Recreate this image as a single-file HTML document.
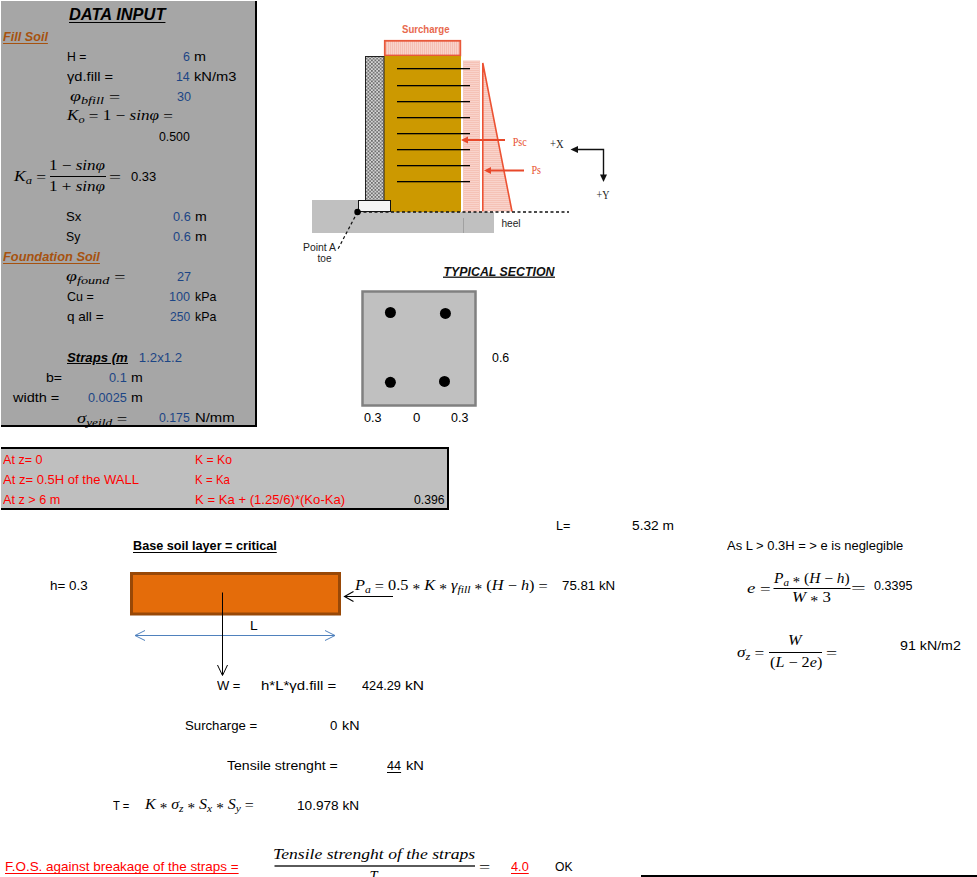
<!DOCTYPE html>
<html><head><meta charset="utf-8">
<style>
html,body{margin:0;padding:0;background:#fff;}
body{width:977px;height:877px;position:relative;overflow:hidden;font-family:"Liberation Sans",sans-serif;}
.t{position:absolute;white-space:nowrap;line-height:1;}
.abs{position:absolute;}
</style></head><body>
<!-- left data panel -->
<div class="abs" style="left:1px;top:1px;width:254px;height:424px;background:#A6A6A6;"></div>
<!-- straps clipped header -->
<div class="abs" style="left:60px;top:340px;width:68px;height:30px;overflow:hidden;">
  <div class="t" id="straps" style="left:7px;top:11px;font:italic bold 13.2px 'Liberation Sans';line-height:1;text-decoration:underline;">Straps (mm)</div>
</div>
<!-- box 2 -->
<div class="abs" style="left:1px;top:449px;width:446px;height:59px;background:#BFBFBF;"></div>
<div class="abs" style="left:1px;top:447px;width:448px;height:2px;background:#000;"></div>
<div class="abs" style="left:1px;top:508px;width:448px;height:2px;background:#000;"></div>
<div class="abs" style="left:447px;top:447px;width:2px;height:63px;background:#000;"></div>

<!-- diagram -->
<svg class="abs" style="left:0;top:0" width="977" height="877" viewBox="0 0 977 877">
<defs>
  <pattern id="chk" width="3.5" height="3.5" patternUnits="userSpaceOnUse">
    <rect width="3.5" height="3.5" fill="#D4D4D4"/><rect width="1.75" height="1.75" fill="#6E6E6E"/><rect x="1.75" y="1.75" width="1.75" height="1.75" fill="#7A7A7A"/>
  </pattern>
  <pattern id="pink" width="2" height="2" patternUnits="userSpaceOnUse">
    <rect width="2" height="2" fill="#F9D3CB"/><rect width="1" height="2" fill="#F5BFB3"/>
  </pattern>
  <pattern id="pinkh" width="2" height="2" patternUnits="userSpaceOnUse">
    <rect width="2" height="2" fill="#F9D3CB"/><rect width="2" height="1" fill="#F5C2B6"/>
  </pattern>
</defs>
<!-- ground -->
<rect x="312" y="212" width="182" height="21" fill="#C0C0C0"/><rect x="312" y="200" width="47" height="12" fill="#C0C0C0"/>
<line x1="463.5" y1="218" x2="463.5" y2="233" stroke="#999" stroke-width="0.8"/>
<!-- surcharge -->
<rect x="384.8" y="40.8" width="75.5" height="14.7" fill="url(#pink)" stroke="#E8583A" stroke-width="1.8"/>
<!-- gold fill -->
<rect x="384" y="56" width="77" height="156" fill="#CC9900"/>
<!-- wall -->
<rect x="365.5" y="56.5" width="18.5" height="144" fill="url(#chk)" stroke="#222" stroke-width="1"/>
<!-- footing -->
<rect x="358.5" y="200.5" width="32" height="11" fill="#F4F4F4" stroke="#111" stroke-width="1"/>
<!-- pink pressure band -->
<rect x="463.5" y="61" width="16" height="150.5" fill="url(#pinkh)" stroke="#F7C9BE" stroke-width="1"/>
<!-- triangle -->
<polygon points="482.8,63 482.8,211.5 512,211.5" fill="url(#pinkh)"/>
<polyline points="482.8,211.5 482.8,63 512,211.5" fill="none" stroke="#EC5233" stroke-width="1.6"/>
<!-- reinforcement -->
<rect x="397" y="68" width="73" height="1.3" fill="#000"/>
<rect x="397" y="85" width="73" height="1.3" fill="#000"/>
<rect x="397" y="101" width="73" height="1.3" fill="#000"/>
<rect x="397" y="117" width="73" height="1.3" fill="#000"/>
<rect x="397" y="133" width="73" height="1.3" fill="#000"/>
<rect x="397" y="149" width="73" height="1.3" fill="#000"/>
<rect x="397" y="165" width="73" height="1.3" fill="#000"/>
<rect x="397" y="181" width="73" height="1.3" fill="#000"/>
<!-- Psc, Ps arrows -->
<g fill="#E8482A">
<rect x="466" y="139" width="39" height="2"/>
<polygon points="461,140 468,136.5 468,143.5"/>
<rect x="489" y="169.5" width="35" height="2"/>
<polygon points="484,170.5 491,167 491,174"/>
</g>
<!-- axes -->
<g stroke="#111" stroke-width="1.4" fill="#111">
<polyline points="576,149.5 603.5,149.5 603.5,176" fill="none"/>
<polygon points="570.5,149.5 578,146 578,153" stroke="none"/>
<polygon points="603.5,182 600,174.5 607,174.5" stroke="none"/>
</g>
<!-- dashed ground line -->
<line x1="358" y1="212" x2="569" y2="212" stroke="#111" stroke-width="1.3" stroke-dasharray="3,2.5"/>
<line x1="357.5" y1="212" x2="338" y2="249" stroke="#111" stroke-width="1.2" stroke-dasharray="3,2.5"/>
<circle cx="357.5" cy="212" r="3.2" fill="#000"/>
<!-- diagram labels -->
<g font-family="Liberation Sans" font-size="10.5">
<text x="402" y="32.5" font-weight="bold" fill="#E8694E" textLength="47.5" lengthAdjust="spacingAndGlyphs">Surcharge</text>
<text x="303" y="251" fill="#222" textLength="33" lengthAdjust="spacingAndGlyphs">Point A</text>
<text x="317.5" y="261.7" fill="#222" textLength="14" lengthAdjust="spacingAndGlyphs">toe</text>
<text x="501.4" y="227.3" fill="#222" textLength="19.2" lengthAdjust="spacingAndGlyphs">heel</text>
</g>
<g font-family="Liberation Serif" font-size="12">
<text x="512.7" y="146" fill="#E8502E" textLength="14.1" lengthAdjust="spacingAndGlyphs">Psc</text>
<text x="531.5" y="173.6" fill="#E8502E" textLength="9.5" lengthAdjust="spacingAndGlyphs">Ps</text>
<text x="550" y="147.8" fill="#222" textLength="13.6" lengthAdjust="spacingAndGlyphs">+X</text>
<text x="596.6" y="198.8" fill="#222" textLength="12.9" lengthAdjust="spacingAndGlyphs">+Y</text>
</g>
<text x="443.5" y="276" font-family="Liberation Sans" font-weight="bold" font-style="italic" font-size="12.5" fill="#111" textLength="111" lengthAdjust="spacingAndGlyphs">TYPICAL SECTION</text>
<line x1="443" y1="277.3" x2="555" y2="277.3" stroke="#333" stroke-width="1.5"/>

<!-- section box -->
<rect x="362.5" y="291.5" width="113" height="114" fill="#C0C0C0" stroke="#808080" stroke-width="2.5"/>
<circle cx="390.4" cy="312.5" r="5.5" fill="#000"/>
<circle cx="445.4" cy="313.4" r="5.5" fill="#000"/>
<circle cx="390.4" cy="382.3" r="5.5" fill="#000"/>
<circle cx="444.5" cy="381.4" r="5.5" fill="#000"/>

<!-- K_a fraction bar -->
<line x1="50" y1="176.5" x2="106" y2="176.5" stroke="#000" stroke-width="1"/>

<!-- orange layer -->
<rect x="131.5" y="573.5" width="208" height="40.5" fill="#E46C0A" stroke="#984807" stroke-width="3"/>
<!-- Pa arrow -->
<line x1="393" y1="596.5" x2="345" y2="596.5" stroke="#000" stroke-width="1.1"/>
<polyline points="353.5,591.5 344.5,596.5 353.5,601.5" fill="none" stroke="#000" stroke-width="1.1"/>
<!-- L dimension -->
<line x1="135" y1="635.5" x2="335" y2="635.5" stroke="#4F81BD" stroke-width="1"/>
<polyline points="145,630.5 135,635.5 145,640.5" fill="none" stroke="#4F81BD" stroke-width="1"/>
<polyline points="325,630.5 335,635.5 325,640.5" fill="none" stroke="#4F81BD" stroke-width="1"/>
<!-- W arrow -->
<line x1="222.5" y1="592.5" x2="222.5" y2="675" stroke="#000" stroke-width="1"/>
<polyline points="217.5,665 222.5,675.5 227.5,665" fill="none" stroke="#000" stroke-width="1"/>
<!-- e fraction -->
<line x1="773.5" y1="588.5" x2="850.5" y2="588.5" stroke="#000" stroke-width="1"/>
<!-- sigma fraction -->
<line x1="769" y1="652.5" x2="822" y2="652.5" stroke="#000" stroke-width="1"/>
<!-- FOS fraction -->
<rect x="274.5" y="865" width="200.5" height="2" fill="#5a5a5a"/>
<!-- bottom line -->
<rect x="641" y="875" width="336" height="2" fill="#000"/>
</svg>
<div class="t" style="left:68.60px;top:6.00px;font:italic bold 17px 'Liberation Sans';line-height:1;color:#000;transform:scaleX(0.9663);transform-origin:0 0;text-decoration:underline;text-underline-offset:2px;text-decoration-skip-ink:none">DATA INPUT</div>
<div class="t" style="left:3.00px;top:30.00px;font:italic bold 13.2px 'Liberation Sans';line-height:1;color:#A6520F;transform:scaleX(0.9574);transform-origin:0 0;text-decoration:underline;text-underline-offset:2px;text-decoration-skip-ink:none">Fill Soil</div>
<div class="t" style="left:66.58px;top:50.00px;font:13.2px 'Liberation Sans';line-height:1;color:#000;transform:scaleX(0.9250);transform-origin:0 0;">H =</div>
<div class="t" style="left:183.30px;top:50.00px;font:13.2px 'Liberation Sans';line-height:1;color:#1C4585;transform:scaleX(0.9429);transform-origin:0 0;">6</div>
<div class="t" style="left:194.31px;top:50.00px;font:13.2px 'Liberation Sans';line-height:1;color:#000;transform:scaleX(1.0900);transform-origin:0 0;">m</div>
<div class="t" style="left:67.40px;top:70.00px;font:13.2px 'Liberation Sans';line-height:1;color:#000;transform:scaleX(1.1122);transform-origin:0 0;">&gamma;d.fill =</div>
<div class="t" style="left:175.86px;top:70.00px;font:13.2px 'Liberation Sans';line-height:1;color:#1C4585;transform:scaleX(0.9357);transform-origin:0 0;">14</div>
<div class="t" style="left:194.29px;top:70.00px;font:13.2px 'Liberation Sans';line-height:1;color:#000;transform:scaleX(1.1135);transform-origin:0 0;">kN/m3</div>
<div class="t" style="left:70.40px;top:89.00px;font:14.5px 'Liberation Serif';line-height:1;color:#000;transform:scaleX(1.3667);transform-origin:0 0;"><i>&phi;</i><i style="font-size:72%;position:relative;top:0.3em">bfill</i> <span style="position:relative;top:1px">=</span></div>
<div class="t" style="left:176.50px;top:90.00px;font:13.2px 'Liberation Sans';line-height:1;color:#1C4585;transform:scaleX(0.9571);transform-origin:0 0;">30</div>
<div class="t" style="left:67.40px;top:108.00px;font:14.5px 'Liberation Serif';line-height:1;color:#000;transform:scaleX(1.1798);transform-origin:0 0;"><i>K</i><i style="font-size:72%;position:relative;top:0.3em">o</i> <span style="position:relative;top:1px">=</span> 1 &minus; <i>sin&phi;</i> <span style="position:relative;top:1px">=</span></div>
<div class="t" style="left:158.60px;top:130.00px;font:13.2px 'Liberation Sans';line-height:1;color:#000;transform:scaleX(0.9333);transform-origin:0 0;">0.500</div>
<div class="t" style="left:14.30px;top:169.00px;font:14.5px 'Liberation Serif';line-height:1;color:#000;transform:scaleX(1.2038);transform-origin:0 0;"><i>K</i><i style="font-size:72%;position:relative;top:0.3em">a</i> <span style="position:relative;top:1px">=</span></div>
<div class="t" style="left:49.32px;top:158.00px;font:14.5px 'Liberation Serif';line-height:1;color:#000;transform:scaleX(1.1766);transform-origin:0 0;">1 &minus; <i>sin&phi;</i></div>
<div class="t" style="left:49.32px;top:178.50px;font:14.5px 'Liberation Serif';line-height:1;color:#000;transform:scaleX(1.1766);transform-origin:0 0;">1 + <i>sin&phi;</i></div>
<div class="t" style="left:108.53px;top:169.00px;font:14.5px 'Liberation Serif';line-height:1;color:#000;transform:scaleX(1.4714);transform-origin:0 0;"><span style="position:relative;top:1px">=</span></div>
<div class="t" style="left:131.00px;top:170.00px;font:13.2px 'Liberation Sans';line-height:1;color:#000;transform:scaleX(0.9840);transform-origin:0 0;">0.33</div>
<div class="t" style="left:66.11px;top:210.00px;font:13.2px 'Liberation Sans';line-height:1;color:#000;transform:scaleX(0.9929);transform-origin:0 0;">Sx</div>
<div class="t" style="left:172.50px;top:210.00px;font:13.2px 'Liberation Sans';line-height:1;color:#1C4585;transform:scaleX(0.9667);transform-origin:0 0;">0.6</div>
<div class="t" style="left:194.73px;top:210.00px;font:13.2px 'Liberation Sans';line-height:1;color:#000;transform:scaleX(1.0700);transform-origin:0 0;">m</div>
<div class="t" style="left:66.17px;top:230.00px;font:13.2px 'Liberation Sans';line-height:1;color:#000;transform:scaleX(0.9267);transform-origin:0 0;">Sy</div>
<div class="t" style="left:172.50px;top:230.00px;font:13.2px 'Liberation Sans';line-height:1;color:#1C4585;transform:scaleX(0.9667);transform-origin:0 0;">0.6</div>
<div class="t" style="left:194.73px;top:230.00px;font:13.2px 'Liberation Sans';line-height:1;color:#000;transform:scaleX(1.0700);transform-origin:0 0;">m</div>
<div class="t" style="left:3.00px;top:250.00px;font:italic bold 13.2px 'Liberation Sans';line-height:1;color:#A6520F;transform:scaleX(0.9730);transform-origin:0 0;text-decoration:underline;text-underline-offset:2px;text-decoration-skip-ink:none">Foundation Soil</div>
<div class="t" style="left:66.10px;top:268.60px;font:14.5px 'Liberation Serif';line-height:1;color:#000;transform:scaleX(1.3628);transform-origin:0 0;"><i>&phi;</i><i style="font-size:72%;position:relative;top:0.3em">found</i> <span style="position:relative;top:1px">=</span></div>
<div class="t" style="left:176.50px;top:270.00px;font:13.2px 'Liberation Sans';line-height:1;color:#1C4585;transform:scaleX(0.9643);transform-origin:0 0;">27</div>
<div class="t" style="left:67.00px;top:290.00px;font:13.2px 'Liberation Sans';line-height:1;color:#000;transform:scaleX(0.9464);transform-origin:0 0;">Cu =</div>
<div class="t" style="left:168.94px;top:290.00px;font:13.2px 'Liberation Sans';line-height:1;color:#1C4585;transform:scaleX(0.9571);transform-origin:0 0;">100</div>
<div class="t" style="left:194.86px;top:290.00px;font:13.2px 'Liberation Sans';line-height:1;color:#000;transform:scaleX(0.9409);transform-origin:0 0;">kPa</div>
<div class="t" style="left:67.00px;top:310.00px;font:13.2px 'Liberation Sans';line-height:1;color:#000;transform:scaleX(1.0286);transform-origin:0 0;">q all =</div>
<div class="t" style="left:169.90px;top:310.00px;font:13.2px 'Liberation Sans';line-height:1;color:#1C4585;transform:scaleX(0.9136);transform-origin:0 0;">250</div>
<div class="t" style="left:194.86px;top:310.00px;font:13.2px 'Liberation Sans';line-height:1;color:#000;transform:scaleX(0.9409);transform-origin:0 0;">kPa</div>
<div class="t" style="left:138.80px;top:351.00px;font:13.2px 'Liberation Sans';line-height:1;color:#1C4585;">1.2x1.2</div>
<div class="t" style="left:46.24px;top:371.00px;font:13.2px 'Liberation Sans';line-height:1;color:#000;transform:scaleX(1.0643);transform-origin:0 0;">b=</div>
<div class="t" style="left:108.50px;top:371.00px;font:13.2px 'Liberation Sans';line-height:1;color:#1C4585;transform:scaleX(0.9667);transform-origin:0 0;">0.1</div>
<div class="t" style="left:130.73px;top:371.00px;font:13.2px 'Liberation Sans';line-height:1;color:#000;transform:scaleX(1.0700);transform-origin:0 0;">m</div>
<div class="t" style="left:13.30px;top:391.00px;font:13.2px 'Liberation Sans';line-height:1;color:#000;transform:scaleX(1.0976);transform-origin:0 0;">width =</div>
<div class="t" style="left:87.50px;top:391.00px;font:13.2px 'Liberation Sans';line-height:1;color:#1C4585;transform:scaleX(0.9600);transform-origin:0 0;">0.0025</div>
<div class="t" style="left:130.73px;top:391.00px;font:13.2px 'Liberation Sans';line-height:1;color:#000;transform:scaleX(1.0700);transform-origin:0 0;">m</div>
<div class="t" style="left:77.00px;top:410.50px;font:14.5px 'Liberation Serif';line-height:1;color:#000;transform:scaleX(1.2795);transform-origin:0 0;"><i>&sigma;</i><i style="font-size:72%;position:relative;top:0.3em">yeild</i> <span style="position:relative;top:1px">=</span></div>
<div class="t" style="left:158.60px;top:411.00px;font:13.2px 'Liberation Sans';line-height:1;color:#1C4585;transform:scaleX(0.9333);transform-origin:0 0;">0.175</div>
<div class="t" style="left:194.67px;top:411.00px;font:13.2px 'Liberation Sans';line-height:1;color:#000;transform:scaleX(1.1265);transform-origin:0 0;">N/mm</div>
<div class="t" style="left:492.30px;top:351.00px;font:13.2px 'Liberation Sans';line-height:1;color:#000;transform:scaleX(0.9389);transform-origin:0 0;">0.6</div>
<div class="t" style="left:364.00px;top:411.00px;font:13.2px 'Liberation Sans';line-height:1;color:#000;transform:scaleX(0.9556);transform-origin:0 0;">0.3</div>
<div class="t" style="left:413.00px;top:411.00px;font:13.2px 'Liberation Sans';line-height:1;color:#000;">0</div>
<div class="t" style="left:451.30px;top:411.00px;font:13.2px 'Liberation Sans';line-height:1;color:#000;transform:scaleX(0.9444);transform-origin:0 0;">0.3</div>
<div class="t" style="left:3.30px;top:453.00px;font:13.2px 'Liberation Sans';line-height:1;color:#FF0000;transform:scaleX(0.9537);transform-origin:0 0;">At z= 0</div>
<div class="t" style="left:3.30px;top:473.00px;font:13.2px 'Liberation Sans';line-height:1;color:#FF0000;transform:scaleX(0.9877);transform-origin:0 0;">At z= 0.5H of the WALL</div>
<div class="t" style="left:3.30px;top:493.00px;font:13.2px 'Liberation Sans';line-height:1;color:#FF0000;transform:scaleX(0.9610);transform-origin:0 0;">At z &gt; 6 m</div>
<div class="t" style="left:194.87px;top:453.00px;font:13.2px 'Liberation Sans';line-height:1;color:#FF0000;transform:scaleX(0.9282);transform-origin:0 0;">K = Ko</div>
<div class="t" style="left:194.92px;top:473.00px;font:13.2px 'Liberation Sans';line-height:1;color:#FF0000;transform:scaleX(0.8769);transform-origin:0 0;">K = Ka</div>
<div class="t" style="left:194.81px;top:493.00px;font:13.2px 'Liberation Sans';line-height:1;color:#FF0000;transform:scaleX(0.9946);transform-origin:0 0;">K = Ka + (1.25/6)*(Ko-Ka)</div>
<div class="t" style="left:414.40px;top:493.00px;font:13.2px 'Liberation Sans';line-height:1;color:#000;transform:scaleX(0.9273);transform-origin:0 0;">0.396</div>
<div class="t" style="left:556.04px;top:519.00px;font:13.2px 'Liberation Sans';line-height:1;color:#000;transform:scaleX(0.9571);transform-origin:0 0;">L=</div>
<div class="t" style="left:631.70px;top:519.00px;font:13.2px 'Liberation Sans';line-height:1;color:#000;transform:scaleX(1.0400);transform-origin:0 0;">5.32 m</div>
<div class="t" style="left:133.04px;top:539.00px;font:bold 13.2px 'Liberation Sans';line-height:1;color:#000;transform:scaleX(0.9588);transform-origin:0 0;text-decoration:underline;text-underline-offset:2px;text-decoration-skip-ink:none">Base soil layer = critical</div>
<div class="t" style="left:726.50px;top:539.00px;font:13.2px 'Liberation Sans';line-height:1;color:#000;transform:scaleX(0.9821);transform-origin:0 0;">As L &gt; 0.3H = &gt; e is neglegible</div>
<div class="t" style="left:49.68px;top:579.00px;font:13.2px 'Liberation Sans';line-height:1;color:#000;transform:scaleX(1.0167);transform-origin:0 0;">h= 0.3</div>
<div class="t" style="left:355.40px;top:577.70px;font:14.5px 'Liberation Serif';line-height:1;color:#000;transform:scaleX(1.1222);transform-origin:0 0;"><i>P</i><i style="font-size:72%;position:relative;top:0.3em">a</i> <span style="position:relative;top:1px">=</span> 0.5  <span style="font-size:95%;position:relative;top:0.32em">*</span>  <i>K</i>  <span style="font-size:95%;position:relative;top:0.32em">*</span>  <i>&gamma;</i><i style="font-size:72%;position:relative;top:0.3em">fill</i>  <span style="font-size:95%;position:relative;top:0.32em">*</span>  (<i>H</i> &minus; <i>h</i>) <span style="position:relative;top:1px">=</span></div>
<div class="t" style="left:561.50px;top:579.00px;font:13.2px 'Liberation Sans';line-height:1;color:#000;transform:scaleX(1.0077);transform-origin:0 0;">75.81 kN</div>
<div class="t" style="left:746.60px;top:580.50px;font:14.5px 'Liberation Serif';line-height:1;color:#000;transform:scaleX(1.3000);transform-origin:0 0;"><i>e</i> <span style="position:relative;top:1px">=</span></div>
<div class="t" style="left:774.00px;top:570.50px;font:14.5px 'Liberation Serif';line-height:1;color:#000;transform:scaleX(1.0648);transform-origin:0 0;"><i>P</i><i style="font-size:72%;position:relative;top:0.3em">a</i>  <span style="font-size:95%;position:relative;top:0.32em">*</span>  (<i>H</i> &minus; <i>h</i>)</div>
<div class="t" style="left:791.54px;top:589.80px;font:14.5px 'Liberation Serif';line-height:1;color:#000;transform:scaleX(1.1594);transform-origin:0 0;"><i>W</i>  <span style="font-size:95%;position:relative;top:0.32em">*</span>  3</div>
<div class="t" style="left:851.20px;top:580.00px;font:14.5px 'Liberation Serif';line-height:1;color:#000;transform:scaleX(1.8000);transform-origin:0 0;"><span style="position:relative;top:1px">=</span></div>
<div class="t" style="left:874.10px;top:579.00px;font:13.2px 'Liberation Sans';line-height:1;color:#000;transform:scaleX(0.9525);transform-origin:0 0;">0.3395</div>
<div class="t" style="left:250.15px;top:619.00px;font:13.2px 'Liberation Sans';line-height:1;color:#000;transform:scaleX(1.0500);transform-origin:0 0;">L</div>
<div class="t" style="left:736.50px;top:644.50px;font:14.5px 'Liberation Serif';line-height:1;color:#000;transform:scaleX(1.1870);transform-origin:0 0;"><i>&sigma;</i><i style="font-size:72%;position:relative;top:0.3em">z</i> <span style="position:relative;top:1px">=</span></div>
<div class="t" style="left:787.88px;top:633.30px;font:14.5px 'Liberation Serif';line-height:1;color:#000;transform:scaleX(1.1250);transform-origin:0 0;"><i>W</i></div>
<div class="t" style="left:769.50px;top:654.80px;font:14.5px 'Liberation Serif';line-height:1;color:#000;transform:scaleX(1.1149);transform-origin:0 0;">(<i>L</i> &minus; 2<i>e</i>)</div>
<div class="t" style="left:826.24px;top:644.50px;font:14.5px 'Liberation Serif';line-height:1;color:#000;transform:scaleX(1.3571);transform-origin:0 0;"><span style="position:relative;top:1px">=</span></div>
<div class="t" style="left:899.50px;top:639.00px;font:13.2px 'Liberation Sans';line-height:1;color:#000;transform:scaleX(1.0786);transform-origin:0 0;">91 kN/m2</div>
<div class="t" style="left:216.70px;top:679.00px;font:13.2px 'Liberation Sans';line-height:1;color:#000;transform:scaleX(0.9826);transform-origin:0 0;">W =</div>
<div class="t" style="left:261.47px;top:679.00px;font:13.2px 'Liberation Sans';line-height:1;color:#000;transform:scaleX(1.1338);transform-origin:0 0;">h*L*&gamma;d.fill =</div>
<div class="t" style="left:361.60px;top:679.00px;font:13.2px 'Liberation Sans';line-height:1;color:#000;transform:scaleX(0.9650);transform-origin:0 0;">424.29</div>
<div class="t" style="left:404.62px;top:679.00px;font:13.2px 'Liberation Sans';line-height:1;color:#000;transform:scaleX(1.1786);transform-origin:0 0;">kN</div>
<div class="t" style="left:185.00px;top:718.50px;font:13.2px 'Liberation Sans';line-height:1;color:#000;">Surcharge =</div>
<div class="t" style="left:330.00px;top:718.50px;font:13.2px 'Liberation Sans';line-height:1;color:#000;">0</div>
<div class="t" style="left:342.01px;top:718.50px;font:13.2px 'Liberation Sans';line-height:1;color:#000;transform:scaleX(1.0857);transform-origin:0 0;">kN</div>
<div class="t" style="left:227.20px;top:759.00px;font:13.2px 'Liberation Sans';line-height:1;color:#000;transform:scaleX(1.0680);transform-origin:0 0;">Tensile strenght =</div>
<div class="t" style="left:386.60px;top:759.00px;font:13.2px 'Liberation Sans';line-height:1;color:#000;transform:scaleX(0.9600);transform-origin:0 0;text-decoration:underline;text-underline-offset:2px;text-decoration-skip-ink:none">44</div>
<div class="t" style="left:405.59px;top:759.00px;font:13.2px 'Liberation Sans';line-height:1;color:#000;transform:scaleX(1.1143);transform-origin:0 0;">kN</div>
<div class="t" style="left:112.50px;top:798.50px;font:13.2px 'Liberation Sans';line-height:1;color:#000;transform:scaleX(0.8526);transform-origin:0 0;">T =</div>
<div class="t" style="left:145.10px;top:797.00px;font:14.5px 'Liberation Serif';line-height:1;color:#000;transform:scaleX(1.1000);transform-origin:0 0;"><i>K</i>  <span style="font-size:95%;position:relative;top:0.32em">*</span>  <i>&sigma;</i><i style="font-size:72%;position:relative;top:0.3em">z</i>  <span style="font-size:95%;position:relative;top:0.32em">*</span>  <i>S</i><i style="font-size:72%;position:relative;top:0.3em">x</i>  <span style="font-size:95%;position:relative;top:0.32em">*</span>  <i>S</i><i style="font-size:72%;position:relative;top:0.3em">y</i> <span style="position:relative;top:1px">=</span></div>
<div class="t" style="left:297.07px;top:798.50px;font:13.2px 'Liberation Sans';line-height:1;color:#000;transform:scaleX(1.0328);transform-origin:0 0;">10.978 kN</div>
<div class="t" style="left:5.38px;top:860.00px;font:13.2px 'Liberation Sans';line-height:1;color:#FF0000;transform:scaleX(1.0197);transform-origin:0 0;text-decoration:underline;text-underline-offset:2px;text-decoration-skip-ink:none">F.O.S. against breakage of the straps =</div>
<div class="t" style="left:273.39px;top:847.40px;font:14.5px 'Liberation Serif';line-height:1;color:#000;transform:scaleX(1.2145);transform-origin:0 0;"><i>Tensile strenght of the straps</i></div>
<div class="t" style="left:478.63px;top:859.00px;font:14.5px 'Liberation Serif';line-height:1;color:#000;transform:scaleX(1.3714);transform-origin:0 0;"><span style="position:relative;top:1px">=</span></div>
<div class="t" style="left:511.20px;top:859.50px;font:13.2px 'Liberation Sans';line-height:1;color:#FF0000;transform:scaleX(0.9667);transform-origin:0 0;text-decoration:underline;text-underline-offset:2px;text-decoration-skip-ink:none">4.0</div>
<div class="t" style="left:555.00px;top:859.50px;font:13.2px 'Liberation Sans';line-height:1;color:#000;transform:scaleX(0.9211);transform-origin:0 0;">OK</div>
<div class="abs" style="left:255px;top:1px;width:2px;height:426px;background:#000;"></div>
<div class="abs" style="left:1px;top:425px;width:256px;height:2px;background:#000;"></div>

<div class="t" style="left:369.5px;top:868.5px;font:italic 14.5px 'Liberation Serif';line-height:1;">T</div>
</body></html>
